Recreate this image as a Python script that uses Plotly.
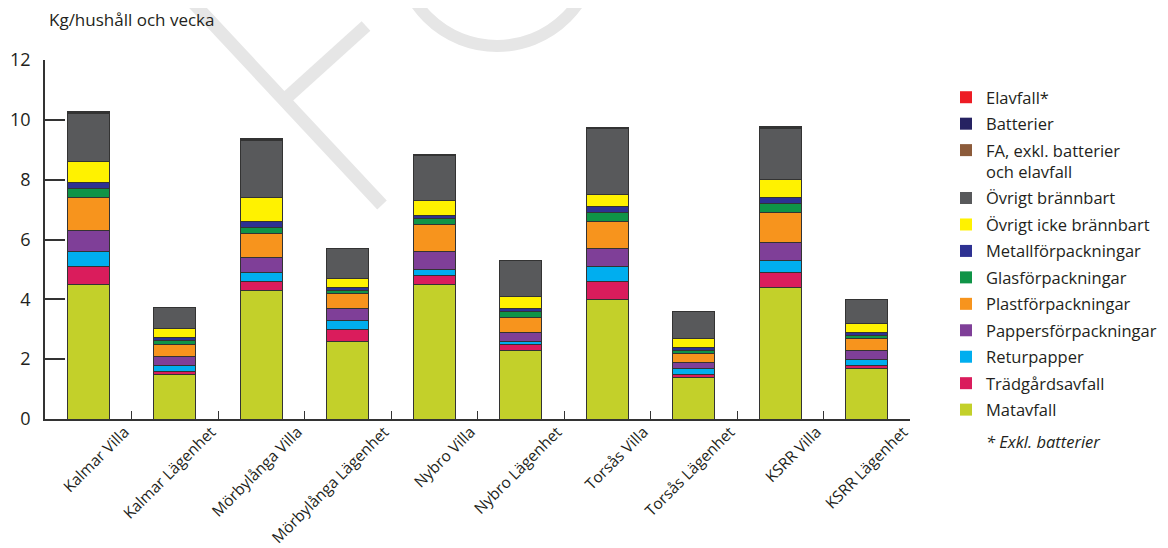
import plotly.graph_objects as go

categories = ["Kalmar Villa", "Kalmar Lägenhet", "Mörbylånga Villa", "Mörbylånga Lägenhet",
              "Nybro Villa", "Nybro Lägenhet", "Torsås Villa", "Torsås Lägenhet",
              "KSRR Villa", "KSRR Lägenhet"]

matavfall = [4.5, 1.5, 4.3, 2.6, 4.5, 2.3, 4.0, 1.4, 4.4, 1.7]
tradgardsavfall = [0.6, 0.1, 0.3, 0.4, 0.3, 0.2, 0.6, 0.1, 0.5, 0.1]
returpapper = [0.5, 0.2, 0.3, 0.3, 0.2, 0.1, 0.5, 0.2, 0.4, 0.2]
pappersforp = [0.7, 0.3, 0.5, 0.4, 0.6, 0.3, 0.6, 0.2, 0.6, 0.3]
plastforp = [1.1, 0.4, 0.8, 0.5, 0.9, 0.5, 0.9, 0.3, 1.0, 0.4]
glasforp = [0.3, 0.12, 0.2, 0.1, 0.2, 0.2, 0.3, 0.1, 0.3, 0.1]
metallforp = [0.2, 0.1, 0.2, 0.1, 0.1, 0.1, 0.2, 0.1, 0.2, 0.1]
ovrigt_icke = [0.7, 0.3, 0.8, 0.3, 0.5, 0.4, 0.4, 0.3, 0.6, 0.3]
ovrigt_brannbart = [1.6, 0.7, 1.9, 1.0, 1.5, 1.2, 2.2, 0.9, 1.7, 0.8]
fa_exkl = [0.04, 0.01, 0.02, 0.01, 0.02, 0.01, 0.02, 0.01, 0.05, 0.01]
batterier = [0.01, 0.0, 0.01, 0.0, 0.01, 0.0, 0.01, 0.0, 0.01, 0.0]
elavfall = [0.03, 0.0, 0.06, 0.0, 0.01, 0.0, 0.0, 0.0, 0.03, 0.0]

series_names = ["Matavfall", "Trädgårdsavfall", "Returpapper", "Pappersförpackningar",
                "Plastförpackningar", "Glasförpackningar", "Metallförpackningar",
                "Övrigt icke brännbart", "Övrigt brännbart",
                "FA, exkl. batterier<br>och elavfall", "Batterier", "Elavfall*"]
series_values = [matavfall, tradgardsavfall, returpapper, pappersforp, plastforp, glasforp,
                 metallforp, ovrigt_icke, ovrigt_brannbart, fa_exkl, batterier, elavfall]
series_colors = ["#c3d02a", "#da1c5c", "#00aeef", "#7f3f98", "#f7941d", "#0f9447",
                 "#2e3192", "#fff200", "#58595b", "#8c5b3a", "#262262", "#ed1c24"]

FONT = "Open Sans, Noto Sans, Arial, sans-serif"
TXT = "#231f20"

x_pos = list(range(len(categories)))

fig = go.Figure()
for name, vals, col in zip(series_names, series_values, series_colors):
    fig.add_trace(go.Bar(x=x_pos, y=vals, name=name, marker_color=col,
                         marker_line=dict(color="#333333", width=1),
                         width=0.49, showlegend=False, hoverinfo="name+y"))
# legend-only entries (no outline on swatches), top of stack listed first;
# they live on the overlaid label axis x2 so that axis is drawn
for name, col in reversed(list(zip(series_names, series_colors))):
    fig.add_trace(go.Bar(x=[None], y=[None], name=name, marker_color=col, xaxis="x2",
                         marker_line_width=0, legendgroup=name, showlegend=True))

# page has an 8px body margin; plot area in page pixels: x 45..910, y 60..419
OFF = 8
PL, PR, PT, PB = 45, 910, 60, 419
W, H = 1168 - OFF, 548 - OFF
L, T = PL - OFF, PT - OFF
pw, ph = PR - PL, PB - PT
R, B = W - L - pw, H - T - ph


def px(x):
    return (x - PL) / pw


def py(y):
    return (PB - y) / ph


wm = "#e6e6e6"
shapes = [
    dict(type="line", xref="paper", yref="paper", x0=px(185), y0=py(-6), x1=px(382), y1=py(205),
         line=dict(color=wm, width=13), layer="below"),
    dict(type="line", xref="paper", yref="paper", x0=px(366), y0=py(26), x1=px(283), y1=py(101),
         line=dict(color=wm, width=13), layer="below"),
    dict(type="circle", xref="paper", yref="paper", x0=px(399), y0=py(-150), x1=px(595), y1=py(46),
         line=dict(color=wm, width=12), layer="below"),
]

xrange = [-0.5, len(categories) - 0.5]

fig.update_layout(
    barmode="stack",
    width=W, height=H,
    margin=dict(l=L, r=R, t=T, b=B, autoexpand=False),
    paper_bgcolor="white", plot_bgcolor="white",
    font=dict(family=FONT, size=17, color=TXT),
    shapes=shapes,
    legend=dict(x=px(946), y=py(80), xanchor="left", yanchor="top",
                traceorder="grouped", tracegroupgap=2.0, valign="top",
                font=dict(size=16.5, color=TXT), bgcolor="rgba(0,0,0,0)"),
    annotations=[
        dict(text="Kg/hushåll och vecka", xref="paper", yref="paper", x=px(47), y=py(20),
             xanchor="left", yanchor="middle", showarrow=False, font=dict(size=17, color=TXT)),
        dict(text="<i>* Exkl. batterier</i>", xref="paper", yref="paper", x=px(984), y=py(441),
             xanchor="left", yanchor="middle", showarrow=False, font=dict(size=16.5, color=TXT)),
    ],
    xaxis=dict(
        range=xrange, tickmode="array", tickvals=[i + 0.5 for i in x_pos],
        showticklabels=False, ticks="inside", ticklen=8, tickcolor="#333333", tickwidth=1.2,
        showline=True, linecolor="#333333", linewidth=1.5, showgrid=False, zeroline=False,
    ),
    xaxis2=dict(
        overlaying="x", side="bottom", range=xrange, anchor="y",
        tickmode="array", tickvals=[i + 0.42 for i in x_pos], ticktext=categories,
        tickangle=-45, ticks="", showline=False, showgrid=False, zeroline=False,
        tickfont=dict(size=15.5, color=TXT),
    ),
    yaxis=dict(
        range=[0, 12], tickmode="array", tickvals=[0, 2, 4, 6, 8, 10, 12],
        ticks="inside", ticklen=20, tickcolor="#333333", tickwidth=1.5,
        showline=True, linecolor="#333333", linewidth=1.5, showgrid=False, zeroline=False,
        tickfont=dict(size=18, color=TXT), ticklabelstandoff=9,
    ),
)

fig.write_html("out.html")
